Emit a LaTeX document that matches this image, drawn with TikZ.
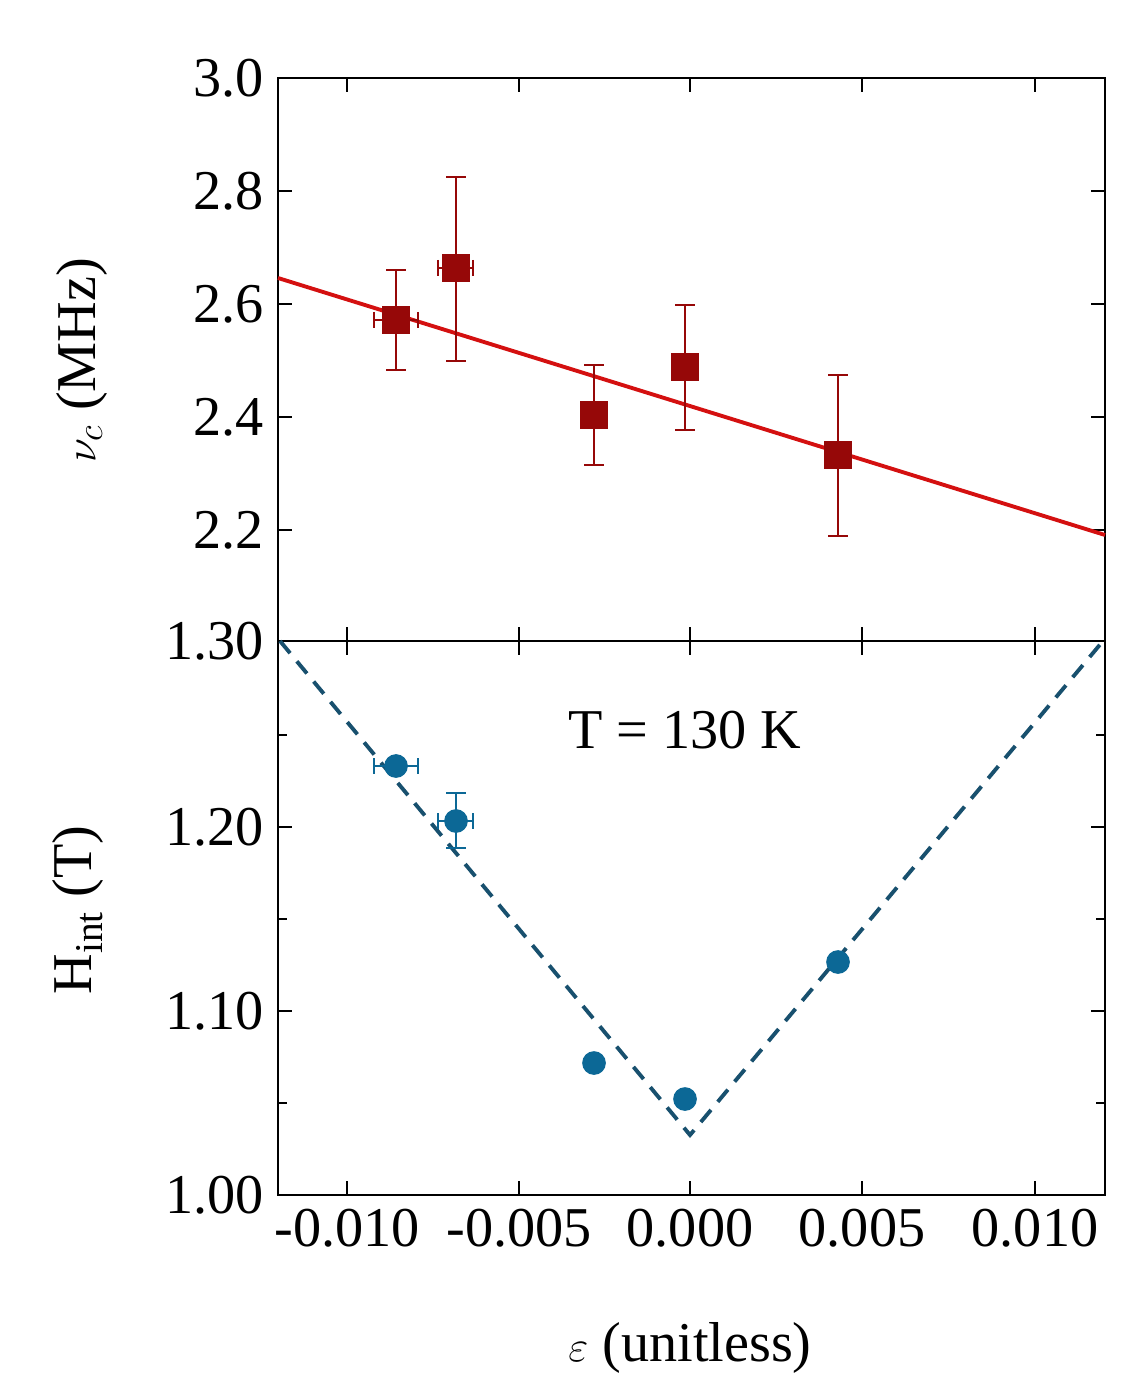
\documentclass[tikz,border=0pt]{standalone}
\usepackage{fontspec}
\setmainfont{Liberation Serif}
\usetikzlibrary{positioning}
\definecolor{fitred}{RGB}{212,16,16}
\definecolor{datred}{RGB}{150,8,8}
\definecolor{datblue}{RGB}{12,104,150}
\definecolor{fitblue}{RGB}{24,80,110}
\tikzset{
  tick/.style={line width=1.3pt},
  ticklab/.style={font=\fontsize{32}{37}\selectfont},
  sq/.style={fill=datred,minimum size=16pt,inner sep=0pt},
  dot/.style={circle,fill=datblue,minimum size=13.5pt,inner sep=0pt},
  errred/.style={datred,line width=1.1pt},
  errblue/.style={datblue,line width=1.1pt}
}
\begin{document}
\begin{tikzpicture}[x=0.02cm,y=-0.02cm]
\useasboundingbox (0,0) rectangle (1136,1391);

% Frames
\draw[line width=1.4pt] (278,78) rectangle (1105,1195);
\draw[line width=1.4pt] (278,641) -- (1105,641);

% x ticks
\foreach \px/\lab in {347/-0.010,519/-0.005,690/0.000,862/0.005,1035/0.010}{
  \draw[tick] (\px,78) -- ++(0,14);
  \draw[tick] (\px,641) -- ++(0,-14) (\px,641) -- ++(0,14);
  \draw[tick] (\px,1195) -- ++(0,-14);
  \node[ticklab,below] at (\px,1203) {\lab};
}
% top y ticks
\foreach \py/\lab in {530/2.2,417/2.4,304/2.6,191/2.8,78/3.0}{
  \draw[tick] (278,\py) -- ++(14,0);
  \draw[tick] (1105,\py) -- ++(-14,0);
  \node[ticklab,left] at (270,\py) {\lab};
}
% bottom y ticks
\foreach \py/\lab in {1195/1.00,1011/1.10,827/1.20,641/1.30}{
  \draw[tick] (278,\py) -- ++(14,0);
  \draw[tick] (1105,\py) -- ++(-14,0);
  \node[ticklab,left] at (270,\py) {\lab};
}
\foreach \py in {1103,919,735}{
  \draw[tick] (278,\py) -- ++(9,0);
  \draw[tick] (1105,\py) -- ++(-9,0);
}

% Axis labels
\node[ticklab,rotate=90] (ylabtop) at (82,360) {$\nu_c$ (MHz)};
\node[ticklab,rotate=90] (ylabbot) at (78,910) {H$_{\mathrm{int}}$ (T)};
\node[ticklab] (xlab) at (690,1348) {$\varepsilon$ (unitless)};
\node[ticklab] (temp) at (685,730) {T = 130 K};

% Top fit
\draw[fitred,line width=2.2pt] (278,278) -- (1105,535);

% Top error bars
\draw[errred] (396,270) -- (396,370) (386,270) -- (406,270) (386,370) -- (406,370);
\draw[errred] (374,320) -- (418,320) (374,312) -- (374,328) (418,312) -- (418,328);
\draw[errred] (456,177) -- (456,361) (446,177) -- (466,177) (446,361) -- (466,361);
\draw[errred] (438,268) -- (473,268) (438,260) -- (438,276) (473,260) -- (473,276);
\draw[errred] (594,365) -- (594,465) (584,365) -- (604,365) (584,465) -- (604,465);
\draw[errred] (685,305) -- (685,430) (675,305) -- (695,305) (675,430) -- (695,430);
\draw[errred] (838,375) -- (838,536) (828,375) -- (848,375) (828,536) -- (848,536);

% Top points
\node[sq] (r1) at (396,320) {};
\node[sq] (r2) at (456,268) {};
\node[sq] (r3) at (594,415) {};
\node[sq] (r4) at (685,367) {};
\node[sq] (r5) at (838,455) {};

% Bottom fit
\draw[fitblue,line width=2.2pt,dash pattern=on 9pt off 6pt] (280,641) -- (690,1135) -- (1103,641);

% Bottom error bars
\draw[errblue] (374,766) -- (418,766) (374,758) -- (374,774) (418,758) -- (418,774);
\draw[errblue] (456,793) -- (456,848) (446,793) -- (466,793) (446,848) -- (466,848);
\draw[errblue] (438,821) -- (473,821) (438,813) -- (438,829) (473,813) -- (473,829);

% Bottom points
\node[dot] (b1) at (396,766) {};
\node[dot] (b2) at (456,821) {};
\node[dot] (b3) at (594,1063) {};
\node[dot] (b4) at (685,1099) {};
\node[dot] (b5) at (838,962) {};

\end{tikzpicture}
\end{document}
